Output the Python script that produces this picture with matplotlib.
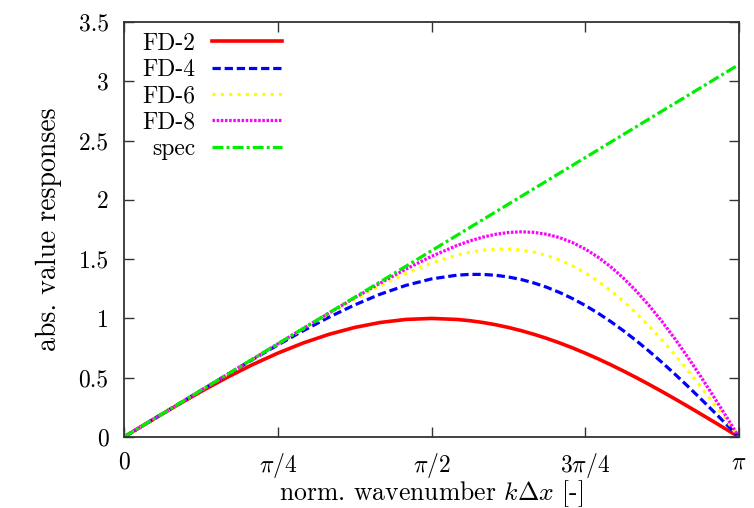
import numpy as np
import matplotlib
matplotlib.use("Agg")
import matplotlib.pyplot as plt

plt.rcParams['font.family'] = ['cmr10', 'DejaVu Serif']
plt.rcParams['mathtext.fontset'] = 'cm'
plt.rcParams['axes.unicode_minus'] = False

# normalized wavenumber k*dx (radians), 0..pi
kdx = [0.0, 0.1309, 0.2618, 0.3927, 0.5236, 0.6545, 0.7854, 0.9163, 1.0472,
       1.1781, 1.3090, 1.4399, 1.5708, 1.7017, 1.7671, 1.8326, 1.8980,
       1.9635, 2.0289, 2.0944, 2.1598, 2.2253, 2.2907, 2.3562, 2.4216,
       2.4871, 2.5525, 2.6180, 2.6834, 2.7489, 2.8143, 2.8798, 2.9452,
       3.0107, 3.0761, 3.1416]

fd2 = [0.0, 0.1305, 0.2588, 0.3827, 0.5000, 0.6088, 0.7071, 0.7934, 0.8660,
       0.9239, 0.9659, 0.9914, 1.0000, 0.9914, 0.9808, 0.9659, 0.9469,
       0.9239, 0.8969, 0.8660, 0.8315, 0.7934, 0.7518, 0.7071, 0.6594,
       0.6088, 0.5556, 0.5000, 0.4423, 0.3827, 0.3214, 0.2588, 0.1951,
       0.1305, 0.0654, 0.0]
fd4 = [0.0, 0.1309, 0.2617, 0.3924, 0.5223, 0.6508, 0.7761, 0.8969, 1.0103,
       1.1140, 1.2045, 1.2787, 1.3333, 1.3650, 1.3715, 1.3712, 1.3640,
       1.3497, 1.3281, 1.2990, 1.2626, 1.2189, 1.1677, 1.1095, 1.0444,
       0.9727, 0.8947, 0.8110, 0.7219, 0.6281, 0.5300, 0.4284, 0.3239,
       0.2171, 0.1090, 0.0]
fd6 = [0.0, 0.1309, 0.2618, 0.3927, 0.5235, 0.6542, 0.7842, 0.9131, 1.0392,
       1.1610, 1.2753, 1.3787, 1.4667, 1.5339, 1.5583, 1.5753, 1.5845,
       1.5852, 1.5768, 1.5588, 1.5309, 1.4926, 1.4437, 1.3842, 1.3142,
       1.2338, 1.1432, 1.0431, 0.9341, 0.8170, 0.6925, 0.5618, 0.4260,
       0.2861, 0.1438, 0.0]
fd8 = [0.0, 0.1309, 0.2618, 0.3927, 0.5236, 0.6545, 0.7852, 0.9158, 1.0454,
       1.1734, 1.2977, 1.4159, 1.5238, 1.6158, 1.6539, 1.6854, 1.7094,
       1.7248, 1.7306, 1.7258, 1.7097, 1.6814, 1.6400, 1.5852, 1.5167,
       1.4344, 1.3382, 1.2288, 1.1066, 0.9727, 0.8281, 0.6741, 0.5126,
       0.3450, 0.1736, 0.0]
spec = [0.0, 0.1309, 0.2618, 0.3927, 0.5236, 0.6545, 0.7854, 0.9163, 1.0472,
        1.1781, 1.3090, 1.4399, 1.5708, 1.7017, 1.7671, 1.8326, 1.8980,
        1.9635, 2.0289, 2.0944, 2.1598, 2.2253, 2.2907, 2.3562, 2.4216,
        2.4871, 2.5525, 2.6180, 2.6834, 2.7489, 2.8143, 2.8798, 2.9452,
        3.0107, 3.0761, 3.1416]

series_labels = ['FD-2', 'FD-4', 'FD-6', 'FD-8', 'spec']
xtick_vals = [0, np.pi / 4, np.pi / 2, 3 * np.pi / 4, np.pi]
xtick_labels = ['$0$', r'$\pi/4$', r'$\pi/2$', r'$3\pi/4$', r'$\pi$']
ytick_vals = [0, 0.5, 1, 1.5, 2, 2.5, 3, 3.5]
ytick_labels = ['0', '0.5', '1', '1.5', '2', '2.5', '3', '3.5']

fig = plt.figure(figsize=(7.54, 5.08), dpi=100)
ax = fig.add_axes([124 / 754, 1 - 437 / 508, (739 - 124) / 754, (437 - 22) / 508])

lw = 2.3
ax.plot(kdx, fd2, color='#ff0000', lw=2.6, ls='-', label=series_labels[0])
ax.plot(kdx, fd4, color='#0000ff', lw=lw, ls=(0, (2.6, 1.2)), label=series_labels[1])
ax.plot(kdx, fd6, color='#ffff00', lw=lw, ls=(0, (1.0, 1.6)), label=series_labels[2])
ax.plot(kdx, fd8, color='#ff00ff', lw=lw, ls=(0, (0.8, 0.5)), label=series_labels[3])
ax.plot(kdx, spec, color='#00ee00', lw=lw, ls=(0, (3.4, 1.0, 0.9, 1.0)), label=series_labels[4])

ax.set_xlim(0, np.pi)
ax.set_ylim(0, 3.5)
ax.set_xticks(xtick_vals)
ax.set_xticklabels(xtick_labels)
ax.set_yticks(ytick_vals)
ax.set_yticklabels(ytick_labels)
ax.tick_params(direction='in', length=7, width=1.0, top=True, right=True,
               labelsize=17, color='#333333')
ax.tick_params(axis='x', pad=10)
ax.tick_params(axis='y', pad=11)
for s in ax.spines.values():
    s.set_linewidth(1.3)
    s.set_color('#333333')

ax.set_xlabel(r'norm. wavenumber $k\Delta x$ [-]', fontsize=18.5, labelpad=-1)
ax.set_ylabel('abs. value responses', fontsize=20, labelpad=12)

leg = ax.legend(loc='upper left', frameon=False, markerfirst=False, fontsize=17,
                handlelength=2.95, handletextpad=0.7, labelspacing=0.18,
                borderaxespad=0.0, borderpad=0.0, bbox_to_anchor=(0.03, 0.975))

fig.savefig('out.png', dpi=100)
